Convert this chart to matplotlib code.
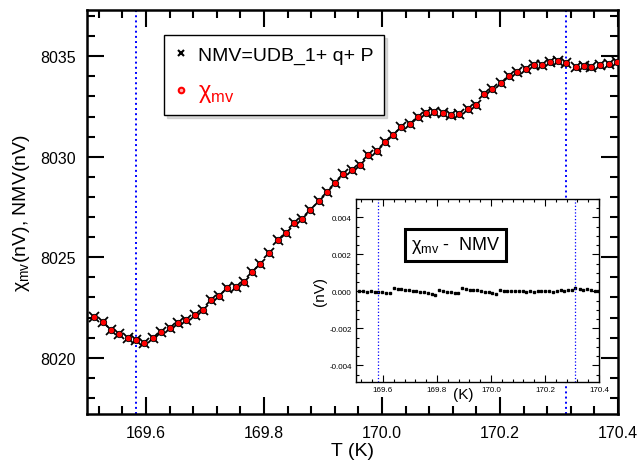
import numpy as np
import matplotlib
matplotlib.use("Agg")
import matplotlib.pyplot as plt
from matplotlib.lines import Line2D
from matplotlib.ticker import MultipleLocator, FormatStrFormatter

plt.rcParams['font.family'] = ['Liberation Sans', 'DejaVu Sans']
plt.rcParams['mathtext.fontset'] = 'custom'
plt.rcParams['mathtext.rm'] = 'Liberation Sans'

# temperature (K)
temp_k = [169.512, 169.527, 169.541, 169.555, 169.569, 169.583, 169.597, 169.612,
          169.626, 169.640, 169.655, 169.668, 169.683, 169.696, 169.710, 169.724,
          169.738, 169.752, 169.766, 169.780, 169.794, 169.808, 169.823, 169.837,
          169.851, 169.865, 169.878, 169.893, 169.906, 169.921, 169.934, 169.949,
          169.963, 169.977, 169.991, 170.005, 170.019, 170.033, 170.047, 170.061,
          170.075, 170.089, 170.103, 170.117, 170.131, 170.145, 170.159, 170.173,
          170.187, 170.201, 170.215, 170.229, 170.244, 170.258, 170.271, 170.285,
          170.299, 170.312, 170.328, 170.342, 170.355, 170.369, 170.384, 170.398]

# measured voltage chi_mv (nV)
chi_mv = [8022.02, 8021.79, 8021.39, 8021.17, 8020.96, 8020.86, 8020.73, 8020.97,
          8021.26, 8021.47, 8021.72, 8021.87, 8022.12, 8022.39, 8022.85, 8023.06,
          8023.46, 8023.50, 8023.78, 8024.24, 8024.64, 8025.22, 8025.87, 8026.22,
          8026.69, 8026.91, 8027.34, 8027.82, 8028.25, 8028.70, 8029.13, 8029.36,
          8029.60, 8030.07, 8030.27, 8030.74, 8031.10, 8031.47, 8031.65, 8031.96,
          8032.18, 8032.25, 8032.16, 8032.06, 8032.15, 8032.36, 8032.56, 8033.14,
          8033.39, 8033.67, 8034.04, 8034.22, 8034.38, 8034.57, 8034.57, 8034.72,
          8034.77, 8034.67, 8034.45, 8034.53, 8034.45, 8034.58, 8034.60, 8034.72]

# chi_mv - NMV residual (nV)
diff_nv = [0.00000, 0.00000, -0.00002, 0.00000, -0.00003, -0.00002, -0.00005, -0.00008,
           -0.00010, 0.00017, 0.00015, 0.00012, 0.00010, 0.00007, 0.00004, 0.00002,
           -0.00002, -0.00005, -0.00008, -0.00012, -0.00020, 0.00005, 0.00003, -0.00002,
           -0.00005, -0.00008, -0.00010, 0.00017, 0.00012, 0.00010, 0.00008, 0.00005,
           0.00002, -0.00002, -0.00005, -0.00008, -0.00012, 0.00005, 0.00004, 0.00003,
           0.00002, 0.00002, 0.00000, 0.00000, -0.00002, 0.00000, -0.00003, 0.00000,
           0.00000, 0.00000, 0.00000, -0.00002, 0.00000, 0.00005, 0.00002, 0.00008,
           0.00010, 0.00018, 0.00015, 0.00010, 0.00012, 0.00005, 0.00000, 0.00000]

# NMV model = chi_mv - residual
nmv = list(np.array(chi_mv) - np.array(diff_nv))

# transition markers (K)
t_marks = [169.583, 170.312]

fig = plt.figure(figsize=(6.42, 4.64), dpi=100)
ax = fig.add_axes([0.1355, 0.1056, 0.8271, 0.8707])

ax.plot(temp_k, nmv, 'x', color='black', markersize=7.5, markeredgewidth=1.3, zorder=3)
ax.plot(temp_k, chi_mv, 'o', color='red', markersize=4.6, markeredgecolor='black',
        markeredgewidth=0.6, zorder=4)
for t in t_marks:
    ax.axvline(t, color='blue', linestyle=':', linewidth=1.4, zorder=2)

ax.set_xlim(169.5, 170.4)
ax.set_ylim(8017.2, 8037.3)
ax.xaxis.set_major_locator(MultipleLocator(0.2))
ax.xaxis.set_minor_locator(MultipleLocator(0.04))
ax.yaxis.set_major_locator(MultipleLocator(5))
ax.yaxis.set_minor_locator(MultipleLocator(1))
ax.xaxis.set_major_formatter(FormatStrFormatter('%.1f'))
ax.tick_params(which='both', direction='in', top=True, right=True, width=1.5,
               labelsize=11.5, pad=8)
ax.tick_params(which='major', length=12)
ax.tick_params(which='minor', length=6)
for s in ax.spines.values():
    s.set_linewidth(1.8)
ax.set_xlabel('T (K)', fontsize=14, labelpad=1)
ax.set_ylabel(r'χ$_{\rm mv}$(nV), NMV(nV)', fontsize=14, labelpad=6)

# legend
handles = [Line2D([], [], linestyle='none', marker='x', color='black',
                  markersize=5, markeredgewidth=1.5),
           Line2D([], [], linestyle='none', marker='o', color='red',
                  markerfacecolor='#ffb0b0', markeredgewidth=1.5, markersize=4)]
labels = ['NMV=UDB_1+ q+ P', r'χ$_{\rm mv}$']
leg = ax.legend(handles, labels, loc='upper left', bbox_to_anchor=(0.145, 0.938),
                frameon=True, fancybox=False,
                shadow={'color': '0.75', 'alpha': 0.6},
                fontsize=14, handlelength=0.6, handletextpad=0.6,
                labelspacing=0.85, borderpad=0.55, borderaxespad=0)
leg.get_frame().set_edgecolor('black')
leg.get_frame().set_linewidth(1.0)
leg.get_texts()[1].set_color('red')
leg.get_texts()[1].set_fontsize(17)

# inset: residual
axi = fig.add_axes([0.5545, 0.1746, 0.3785, 0.3944])
axi.plot(temp_k, diff_nv, 's', color='black', markersize=1.8)
for t in t_marks:
    axi.axvline(t, color='blue', linestyle=':', linewidth=0.9)
axi.set_xlim(169.5, 170.4)
axi.set_ylim(-0.0049, 0.005)
axi.xaxis.set_major_locator(MultipleLocator(0.2))
axi.xaxis.set_minor_locator(MultipleLocator(0.04))
axi.yaxis.set_major_locator(MultipleLocator(0.002))
axi.yaxis.set_minor_locator(MultipleLocator(0.0005))
axi.xaxis.set_major_formatter(FormatStrFormatter('%.1f'))
axi.yaxis.set_major_formatter(FormatStrFormatter('%.3f'))
axi.tick_params(which='both', direction='in', top=True, right=True, width=0.8,
                labelsize=5.8, pad=3)
axi.tick_params(which='major', length=5)
axi.tick_params(which='minor', length=2.5)
for s in axi.spines.values():
    s.set_linewidth(1.0)
axi.set_xlabel('(K)', fontsize=11)
axi.xaxis.set_label_coords(0.44, -0.025)
axi.set_ylabel('(nV)', fontsize=11, labelpad=2)
axi.text(0.41, 0.75, r'χ$_{\rm mv}$ -  NMV', transform=axi.transAxes,
         fontsize=13, va='center', ha='center',
         bbox=dict(boxstyle='square,pad=0.3', facecolor='white',
                   edgecolor='black', linewidth=2.2))

fig.savefig('out.png', dpi=100)
